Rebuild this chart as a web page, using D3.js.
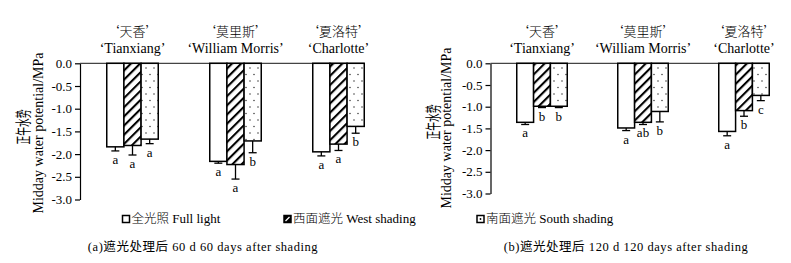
<!DOCTYPE html>
<html><head><meta charset="utf-8">
<script src="https://cdn.jsdelivr.net/npm/d3@7"></script>
<style>
body{margin:0;background:#fff;}
svg text{font-family:"Liberation Serif","Times New Roman","Noto Sans CJK SC",serif;fill:#000;}
.zh{font-family:"Noto Sans CJK SC",sans-serif;}
</style>
</head><body>
<svg id="c" width="791" height="263"></svg>
<script>
// ---- data ----
const categories = ["Tianxiang", "William Morris", "Charlotte"];
const categoriesZh = ["天香", "莫里斯", "夏洛特"];
const seriesKeys = ["full", "west", "south"];
const seriesEn = ["Full light", "West shading", "South shading"];
const seriesZh = ["全光照", "西面遮光", "南面遮光"];
const yTicks = [0, -0.5, -1.0, -1.5, -2.0, -2.5, -3.0];

// Panel (a) 60 d
const a_full  = [-1.84, -2.16, -1.95];
const a_west  = [-1.81, -2.23, -1.78];
const a_south = [-1.67, -1.71, -1.39];
const a_fullErr  = [0.09, 0.04, 0.09];
const a_westErr  = [0.21, 0.32, 0.14];
const a_southErr = [0.10, 0.26, 0.15];
const a_fullLet  = ["a", "a", "a"];
const a_westLet  = ["a", "a", "a"];
const a_southLet = ["a", "b", "b"];

// Panel (b) 120 d
const b_full  = [-1.36, -1.49, -1.57];
const b_west  = [-0.99, -1.36, -1.09];
const b_south = [-0.99, -1.11, -0.74];
const b_fullErr  = [0.05, 0.06, 0.10];
const b_westErr  = [0.03, 0.05, 0.13];
const b_southErr = [0.03, 0.24, 0.12];
const b_fullLet  = ["a", "a", "a"];
const b_westLet  = ["b", "ab", "b"];
const b_southLet = ["b", "b", "c"];

const captionA = "(a)遮光处理后 60 d 60 days after shading";
const captionB = "(b)遮光处理后 120 d 120 days after shading";

// ---- drawing ----
const svg = d3.select("#c");
const defs = svg.append("defs");
const hatch = defs.append("pattern").attr("id","hatch").attr("patternUnits","userSpaceOnUse")
  .attr("width",6.5).attr("height",6.5).attr("patternTransform","rotate(45)");
hatch.append("rect").attr("width",6.5).attr("height",6.5).attr("fill","#fff");
hatch.append("line").attr("x1",0).attr("y1",0).attr("x2",0).attr("y2",6.5)
  .attr("stroke","#000").attr("stroke-width",4.2);
const dots = defs.append("pattern").attr("id","dots").attr("patternUnits","userSpaceOnUse")
  .attr("width",8).attr("height",13);
dots.append("rect").attr("width",8).attr("height",13).attr("fill","#fff");
dots.append("circle").attr("cx",2).attr("cy",3).attr("r",0.75).attr("fill","#333");
dots.append("circle").attr("cx",6).attr("cy",9.5).attr("r",0.75).attr("fill","#333");
const fills = {full:"#fff", west:"url(#hatch)", south:"url(#dots)"};

function panel(cfg){
  const y = d3.scaleLinear().domain([0,-3]).range([cfg.y0, cfg.y1]);
  const x = d3.scaleBand().domain(categories).range([cfg.x0+1, cfg.x0+1+cfg.width])
    .paddingInner(0.5).paddingOuter(0.25);
  const xs = d3.scaleBand().domain(seriesKeys).range([0, x.bandwidth()]).padding(0);
  const g = svg.append("g");

  // y axis
  const ax = g.append("g").attr("transform",`translate(${cfg.x0},0)`)
    .call(d3.axisLeft(y).tickValues(yTicks).tickFormat(d=>d.toFixed(1)).tickSize(5).tickSizeOuter(0).tickPadding(3));
  ax.select(".domain").attr("stroke","#000").attr("stroke-width",1.2);
  ax.selectAll(".tick line").attr("stroke","#000").attr("stroke-width",1.2);
  ax.selectAll(".tick text").attr("font-size",13).attr("font-family","Liberation Serif").attr("fill","#000");

  // zero line
  const lastRight = x(categories[categories.length-1]) + x.bandwidth();
  g.append("line").attr("x1",cfg.x0).attr("x2",lastRight).attr("y1",y(0)).attr("y2",y(0))
    .attr("stroke","#444").attr("stroke-width",1.2);

  categories.forEach((c,ci)=>{
    const gx = x(c);
    seriesKeys.forEach((k,si)=>{
      const v = cfg.vals[k][ci], e = cfg.errs[k][ci];
      const bx = gx + xs(k);
      g.append("rect").attr("x",bx).attr("y",y(0)).attr("width",xs.bandwidth())
        .attr("height",y(v)-y(0)).attr("fill",fills[k]).attr("stroke","#000").attr("stroke-width",1.5);
      const cx = bx + xs.bandwidth()/2;
      g.append("line").attr("x1",cx).attr("x2",cx).attr("y1",y(v)).attr("y2",y(v-e))
        .attr("stroke","#000").attr("stroke-width",1.3);
      g.append("line").attr("x1",cx-4).attr("x2",cx+4).attr("y1",y(v-e)).attr("y2",y(v-e))
        .attr("stroke","#000").attr("stroke-width",1.3);
      g.append("text").attr("x",cx).attr("y",y(v-e)+13).attr("text-anchor","middle")
        .attr("font-size",13).text(cfg.lets[k][ci]);
    });
    const cxg = gx + x.bandwidth()/2;
    g.append("text").attr("x",cxg).attr("y",36).attr("text-anchor","middle")
      .attr("font-size",13).attr("class","zh").attr("font-weight",300).text("‘"+categoriesZh[ci]+"’");
    g.append("text").attr("x",cxg).attr("y",53).attr("text-anchor","middle")
      .attr("font-size",14).text("‘"+c+"’");
  });

  // y titles
  g.append("text").attr("transform",`translate(${cfg.tx1},${cfg.ty1}) rotate(-90) scale(0.55,1)`)
    .attr("text-anchor","middle").attr("class","zh").attr("font-size",16)
    .attr("fill","#333").text("正午水势");
  g.append("text").attr("transform",`translate(${cfg.tx2},${cfg.ty2}) rotate(-90)`)
    .attr("text-anchor","middle").attr("font-size",14).text("Midday water potential/MPa");

  // caption
  g.append("text").attr("x",cfg.capX).attr("y",251).attr("text-anchor","middle")
    .attr("font-size",12.5).attr("letter-spacing",0.55).attr("fill","#111").text(cfg.caption);
}

panel({x0:80, width:309, y0:63.3, y1:199.5,
  vals:{full:a_full, west:a_west, south:a_south},
  errs:{full:a_fullErr, west:a_westErr, south:a_southErr},
  lets:{full:a_fullLet, west:a_westLet, south:a_southLet},
  tx1:29, ty1:127, tx2:43, ty2:133, capX:203, caption:captionA});
panel({x0:490.5, width:303, y0:63.3, y1:193.5,
  vals:{full:b_full, west:b_west, south:b_south},
  errs:{full:b_fullErr, west:b_westErr, south:b_southErr},
  lets:{full:b_fullLet, west:b_westLet, south:b_southLet},
  tx1:439, ty1:122, tx2:451, ty2:128, capX:626, caption:captionB});

// legend
const legendX = [122.5, 284, 477];
seriesKeys.forEach((k,i)=>{
  const lg = svg.append("g").attr("transform",`translate(${legendX[i]},215.5)`);
  lg.append("rect").attr("width",7).attr("height",7).attr("fill",k==="west"?"#000":"#fff")
    .attr("stroke","#000").attr("stroke-width",1.5);
  if(k==="west") lg.append("line").attr("x1",1.5).attr("y1",5.5).attr("x2",5.5).attr("y2",1.5)
    .attr("stroke","#fff").attr("stroke-width",1.3);
  if(k==="south") lg.append("circle").attr("cx",3.5).attr("cy",3.5).attr("r",0.9).attr("fill","#000");
  const t = lg.append("text").attr("x",9).attr("y",7.5).attr("font-size",13);
  t.append("tspan").attr("class","zh").attr("font-size",12.5).attr("font-weight",300).text(seriesZh[i]);
  t.append("tspan").text(" "+seriesEn[i]);
});
</script>
</body></html>
